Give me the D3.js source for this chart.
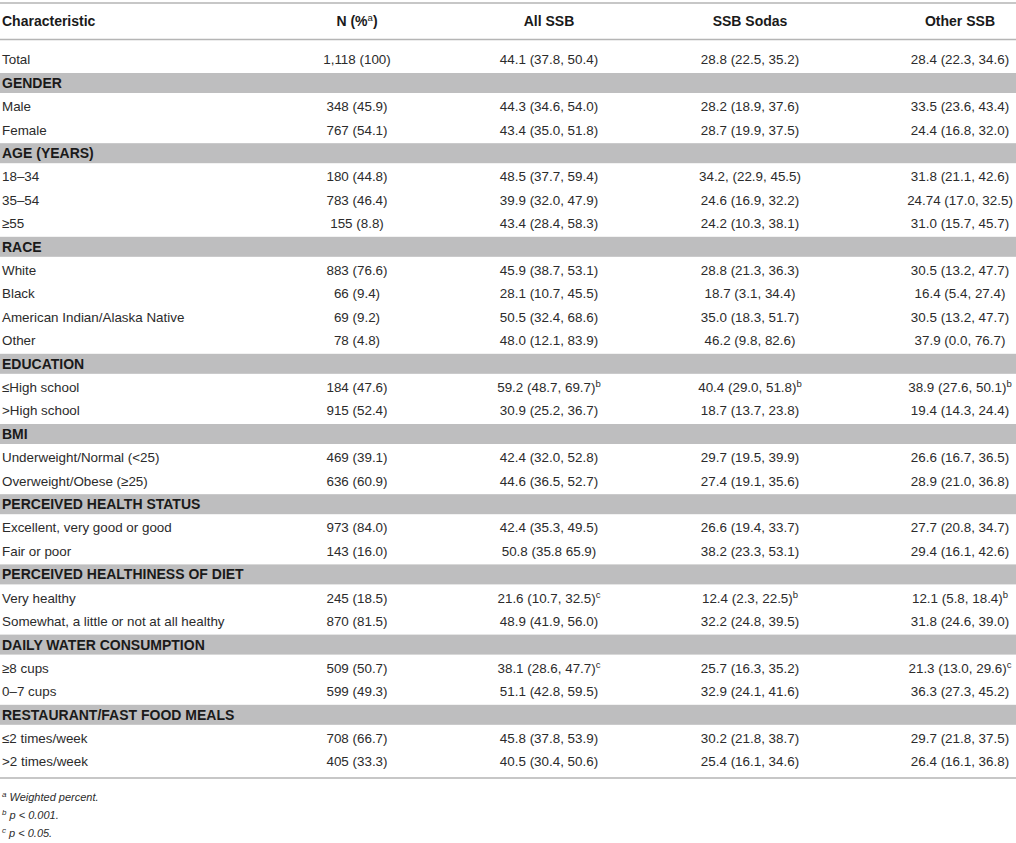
<!DOCTYPE html>
<html>
<head>
<meta charset="utf-8">
<script src="https://cdn.jsdelivr.net/npm/d3@7"></script>
<style>
  body { margin: 0; background: #fff; }
  svg text { font-family: "Liberation Sans", Arial, sans-serif; fill: #2b2b2b; }
</style>
</head>
<body>
<svg id="table" width="1016" height="843"></svg>
<script>
// column headers
const headers = ["Characteristic", "N (%", "All SSB", "SSB Sodas", "Other SSB"];

// section names, with the index of the first row that follows each one
const sections = [
  "GENDER", "AGE (YEARS)", "RACE", "EDUCATION", "BMI",
  "PERCEIVED HEALTH STATUS", "PERCEIVED HEALTHINESS OF DIET",
  "DAILY WATER CONSUMPTION", "RESTAURANT/FAST FOOD MEALS"
];
const sectionStart = [1, 3, 6, 10, 12, 14, 16, 18, 20];

const labels = [
  "Total",
  "Male", "Female",
  "18–34", "35–54", "≥55",
  "White", "Black", "American Indian/Alaska Native", "Other",
  "≤High school", ">High school",
  "Underweight/Normal (<25)", "Overweight/Obese (≥25)",
  "Excellent, very good or good", "Fair or poor",
  "Very healthy", "Somewhat, a little or not at all healthy",
  "≥8 cups", "0–7 cups",
  "≤2 times/week", ">2 times/week"
];

const nValues = [
  "1,118 (100)",
  "348 (45.9)", "767 (54.1)",
  "180 (44.8)", "783 (46.4)", "155 (8.8)",
  "883 (76.6)", "66 (9.4)", "69 (9.2)", "78 (4.8)",
  "184 (47.6)", "915 (52.4)",
  "469 (39.1)", "636 (60.9)",
  "973 (84.0)", "143 (16.0)",
  "245 (18.5)", "870 (81.5)",
  "509 (50.7)", "599 (49.3)",
  "708 (66.7)", "405 (33.3)"
];

const allSSB = [
  "44.1 (37.8, 50.4)",
  "44.3 (34.6, 54.0)", "43.4 (35.0, 51.8)",
  "48.5 (37.7, 59.4)", "39.9 (32.0, 47.9)", "43.4 (28.4, 58.3)",
  "45.9 (38.7, 53.1)", "28.1 (10.7, 45.5)", "50.5 (32.4, 68.6)", "48.0 (12.1, 83.9)",
  "59.2 (48.7, 69.7)", "30.9 (25.2, 36.7)",
  "42.4 (32.0, 52.8)", "44.6 (36.5, 52.7)",
  "42.4 (35.3, 49.5)", "50.8 (35.8 65.9)",
  "21.6 (10.7, 32.5)", "48.9 (41.9, 56.0)",
  "38.1 (28.6, 47.7)", "51.1 (42.8, 59.5)",
  "45.8 (37.8, 53.9)", "40.5 (30.4, 50.6)"
];
const allSSBSup = ["", "", "", "", "", "", "", "", "", "", "b", "", "", "", "", "", "c", "", "c", "", "", ""];

const sodas = [
  "28.8 (22.5, 35.2)",
  "28.2 (18.9, 37.6)", "28.7 (19.9, 37.5)",
  "34.2, (22.9, 45.5)", "24.6 (16.9, 32.2)", "24.2 (10.3, 38.1)",
  "28.8 (21.3, 36.3)", "18.7 (3.1, 34.4)", "35.0 (18.3, 51.7)", "46.2 (9.8, 82.6)",
  "40.4 (29.0, 51.8)", "18.7 (13.7, 23.8)",
  "29.7 (19.5, 39.9)", "27.4 (19.1, 35.6)",
  "26.6 (19.4, 33.7)", "38.2 (23.3, 53.1)",
  "12.4 (2.3, 22.5)", "32.2 (24.8, 39.5)",
  "25.7 (16.3, 35.2)", "32.9 (24.1, 41.6)",
  "30.2 (21.8, 38.7)", "25.4 (16.1, 34.6)"
];
const sodasSup = ["", "", "", "", "", "", "", "", "", "", "b", "", "", "", "", "", "b", "", "", "", "", ""];

const otherSSB = [
  "28.4 (22.3, 34.6)",
  "33.5 (23.6, 43.4)", "24.4 (16.8, 32.0)",
  "31.8 (21.1, 42.6)", "24.74 (17.0, 32.5)", "31.0 (15.7, 45.7)",
  "30.5 (13.2, 47.7)", "16.4 (5.4, 27.4)", "30.5 (13.2, 47.7)", "37.9 (0.0, 76.7)",
  "38.9 (27.6, 50.1)", "19.4 (14.3, 24.4)",
  "26.6 (16.7, 36.5)", "28.9 (21.0, 36.8)",
  "27.7 (20.8, 34.7)", "29.4 (16.1, 42.6)",
  "12.1 (5.8, 18.4)", "31.8 (24.6, 39.0)",
  "21.3 (13.0, 29.6)", "36.3 (27.3, 45.2)",
  "29.7 (21.8, 37.5)", "26.4 (16.1, 36.8)"
];
const otherSSBSup = ["", "", "", "", "", "", "", "", "", "", "b", "", "", "", "", "", "b", "", "c", "", "", ""];

const footnoteMarks = ["a", "b", "c"];
const footnotes = ["Weighted percent.", "p < 0.001.", "p < 0.05."];

// build the display lines: section bands interleaved with data rows
const lines = [];
labels.forEach((lab, i) => {
  const s = sectionStart.indexOf(i);
  if (s >= 0) lines.push({ band: true, label: sections[s] });
  lines.push({
    band: false,
    cells: [
      { t: lab, s: "" },
      { t: nValues[i], s: "" },
      { t: allSSB[i], s: allSSBSup[i] },
      { t: sodas[i], s: sodasSup[i] },
      { t: otherSSB[i], s: otherSSBSup[i] }
    ]
  });
});

const svg = d3.select("#table");
const width = +svg.attr("width");

const colX = d3.scaleOrdinal().domain(d3.range(5)).range([2, 357, 549, 750, 960]);
const rowY = d3.scaleLinear().domain([0, 1]).range([59.6, 83]);

// horizontal rules
[3, 39.5, 778].forEach((y) => {
  svg.append("line").attr("x1", 0).attr("x2", width).attr("y1", y).attr("y2", y)
    .attr("stroke", "#b5b5b5").attr("stroke-width", 1.5);
});

// header
const head = svg.append("g");
headers.forEach((h, i) => {
  const t = head.append("text")
    .attr("x", colX(i)).attr("y", 21)
    .attr("dy", "0.35em")
    .attr("text-anchor", i === 0 ? "start" : "middle")
    .style("font-size", "14px").style("font-weight", "bold")
    .style("fill", "#1a1a1a")
    .text(h);
  if (i === 1) {
    t.append("tspan").attr("baseline-shift", "super").style("font-size", "9.5px")
      .style("font-weight", "normal").text("a");
    t.append("tspan").text(")");
  }
});

// rows
const rows = svg.append("g").selectAll("g")
  .data(lines)
  .join("g")
  .attr("transform", (d, i) => "translate(0," + rowY(i) + ")");

rows.filter((d) => d.band).each(function (d) {
  const g = d3.select(this);
  g.append("rect").attr("x", 0).attr("y", -10).attr("width", width).attr("height", 20)
    .attr("fill", "#bebebf");
  g.append("text").attr("x", 2).attr("dy", "0.36em")
    .style("font-size", "14px").style("font-weight", "bold")
    .style("fill", "#1a1a1a")
    .text(d.label);
});

rows.filter((d) => !d.band).each(function (d) {
  const g = d3.select(this);
  d.cells.forEach((c, j) => {
    const t = g.append("text")
      .attr("x", colX(j)).attr("dy", "0.36em")
      .attr("text-anchor", j === 0 ? "start" : "middle")
      .style("font-size", "13.4px")
      .text(c.t);
    if (c.s) {
      t.append("tspan").attr("baseline-shift", "super").style("font-size", "9.5px").text(c.s);
    }
  });
});

// footnotes
footnotes.forEach((f, i) => {
  const t = svg.append("text").attr("x", 2).attr("y", 797 + i * 18).attr("dy", "0.35em")
    .style("font-size", "11px").style("font-style", "italic");
  t.append("tspan").attr("baseline-shift", "super").style("font-size", "8px").text(footnoteMarks[i]);
  t.append("tspan").text(" " + f);
});
</script>
</body>
</html>
